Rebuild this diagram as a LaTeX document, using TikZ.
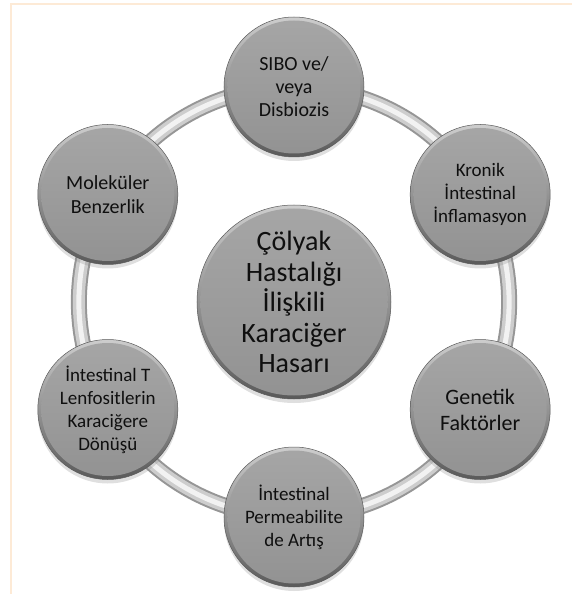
\documentclass[tikz,border=0pt]{standalone}
\usepackage{fontspec}
\setmainfont{Carlito}
\usetikzlibrary{shadows,backgrounds}

\definecolor{facetop}{RGB}{166,166,166}
\definecolor{facebot}{RGB}{146,146,146}
\definecolor{rimtop}{RGB}{205,205,205}
\definecolor{rimbot}{RGB}{90,90,90}
\definecolor{tubeedge}{RGB}{150,150,150}
\definecolor{tubemid}{RGB}{205,205,205}
\definecolor{tubelight}{RGB}{242,242,242}
\definecolor{framecol}{RGB}{253,234,214}
\definecolor{txt}{RGB}{15,15,15}

\begin{document}
\begin{tikzpicture}[
  ball/.style={circle, minimum size=#1, inner sep=0pt, align=center, text=txt,
    top color=rimtop, bottom color=rimbot, draw=rimbot, line width=0.5pt,
    drop shadow={shadow xshift=0pt, shadow yshift=-4pt, opacity=0.25},
    path picture={\shade[top color=facetop, bottom color=facebot]
      (path picture bounding box.center) circle[radius=#1/2-3.5pt];}},
  small/.style={ball=140pt, font=\fontsize{19}{23}\selectfont},
  big/.style={ball=194pt, font=\fontsize{28}{30.5}\selectfont},
  tube/.style={line width=#1, line cap=round}
]
  \useasboundingbox (-294pt,-292pt) rectangle (278pt,302pt);
  % Frame
  \draw[framecol, line width=1.5pt] (-283pt,-292pt) -- (-283pt,298pt) -- (278pt,298pt);
  % Nodes
  \node (merkez) [big] at (0,0) {Çölyak\\Hastalığı\\İlişkili\\Karaciğer\\Hasarı};
  \node (sibo) [small, font=\fontsize{20}{23}\selectfont] at (90:215pt) {SIBO ve/\\veya\\Disbiozis};
  \node (kronik) [small] at (30:215pt) {Kronik\\İntestinal\\İnflamasyon};
  \node (genetik) [small, font=\fontsize{22}{26}\selectfont] at (-30:215pt) {Genetik\\Faktörler};
  \node (perm) [small] at (-90:215pt) {İntestinal\\Permeabilite\\de Artış};
  \node (lenfo) [small] at (-150:215pt) {İntestinal T\\Lenfositlerin\\Karaciğere\\Dönüşü};
  \node (molek) [small, font=\fontsize{20}{24}\selectfont] at (150:215pt) {Moleküler\\Benzerlik};
  % Ring
  \begin{scope}[on background layer]
    \foreach \a/\b in {sibo/kronik,kronik/genetik,genetik/perm,perm/lenfo,lenfo/molek,molek/sibo} {
      \draw[tubeedge, tube=16pt] (\a.center) to[bend left=30, looseness=0.92] (\b.center);
      \draw[tubemid, tube=12pt] (\a.center) to[bend left=30, looseness=0.92] (\b.center);
      \draw[tubelight, tube=5pt] (\a.center) to[bend left=30, looseness=0.92] (\b.center);
    }
  \end{scope}
\end{tikzpicture}
\end{document}
